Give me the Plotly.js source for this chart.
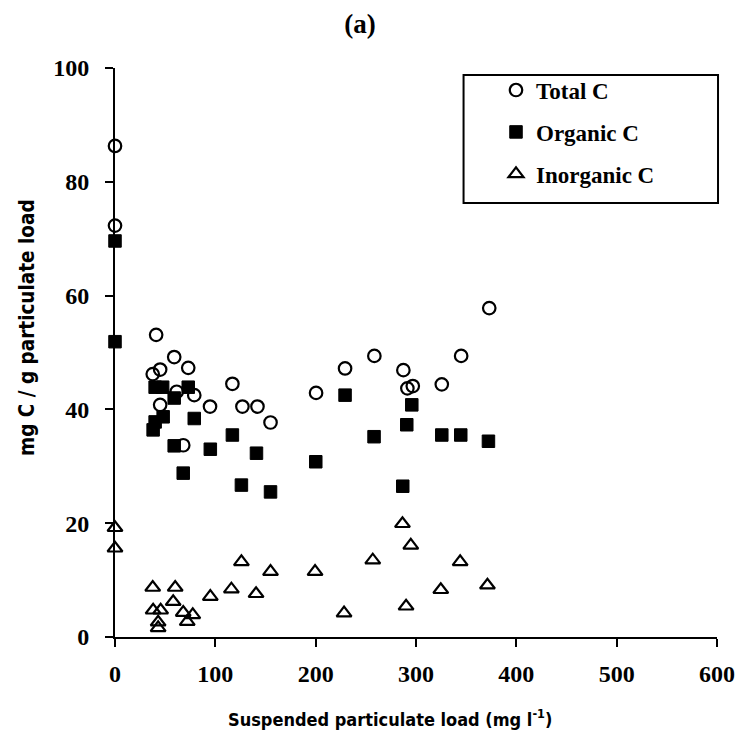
<!DOCTYPE html>
<html>
<head>
<meta charset="utf-8">
<script src="https://cdn.plot.ly/plotly-3.0.1.min.js"></script>
<style>html,body{margin:0;padding:0;background:#fff;}#chart{width:743px;height:736px;}</style>
</head>
<body>
<div id="chart"></div>
<script>
// Total C (open circles)
var totalX = [0, 0, 41, 59, 73, 37.6, 45, 117, 61.5, 79, 45, 94.7, 127, 142, 155, 68,
              373, 258.5, 345, 229.3, 287.4, 291.4, 296.8, 325.7, 200.4];
var totalY = [86.3, 72.3, 53.1, 49.2, 47.3, 46.2, 47.0, 44.5, 43.1, 42.5, 40.8, 40.5, 40.5, 40.5, 37.7, 33.7,
              57.8, 49.4, 49.4, 47.2, 46.9, 43.7, 44.1, 44.4, 42.9];
// Organic C (filled squares)
var organicX = [0, 0, 40, 47.5, 73, 59, 48, 40, 38, 79, 117, 59, 95, 141, 68, 126, 155,
                229.3, 295.8, 290.8, 258.2, 325.7, 344.6, 372.2, 200.1, 286.8];
var organicY = [69.6, 51.9, 43.9, 43.9, 43.9, 42.0, 38.7, 37.8, 36.4, 38.4, 35.5, 33.6, 33.0, 32.3, 28.8, 26.7, 25.5,
                42.5, 40.8, 37.3, 35.2, 35.5, 35.5, 34.4, 30.8, 26.5];
// Inorganic C (open triangles)
var inorgX = [0, 0, 126, 155, 37.6, 60, 116, 140.6, 95, 58, 38, 45.5, 68, 77.5, 72, 43, 43,
              286.5, 294.8, 256.9, 344, 199.4, 371.2, 324.7, 290.1, 228.3];
var inorgY = [19.2, 15.6, 13.2, 11.5, 8.7, 8.7, 8.4, 7.6, 7.1, 6.2, 4.7, 4.7, 4.3, 3.9, 2.7, 2.6, 1.6,
              19.9, 16.1, 13.5, 13.2, 11.5, 9.1, 8.3, 5.4, 4.2];

var xTicks = [0, 100, 200, 300, 400, 500, 600];
var yTicks = [0, 20, 40, 60, 80, 100];

var serif = "Liberation Serif, Times New Roman, serif";
var narrow = "Liberation Sans Narrow, DejaVu Sans Condensed, Liberation Sans, sans-serif";

var traces = [
  {x: totalX, y: totalY, name: 'Total C', type: 'scatter', mode: 'markers', legendgroup: 'a', cliponaxis: false,
   marker: {symbol: 'circle-open', size: 12.5, color: '#000', line: {width: 2.2, color: '#000'}}},
  {x: organicX, y: organicY, name: 'Organic C', type: 'scatter', mode: 'markers', legendgroup: 'b', cliponaxis: false,
   marker: {symbol: 'square', size: 12.5, color: '#000', line: {width: 1, color: '#000'}}},
  {x: inorgX, y: inorgY, name: 'Inorganic C', type: 'scatter', mode: 'markers', legendgroup: 'c', cliponaxis: false,
   marker: {symbol: 'triangle-up-open', size: 13, color: '#000', line: {width: 2.2, color: '#000'}}}
];

var layout = {
  width: 743, height: 736,
  margin: {l: 115, r: 26, t: 68, b: 99},
  paper_bgcolor: '#fff', plot_bgcolor: '#fff',
  showlegend: true,
  title: {text: '<b>(a)</b>', font: {family: serif, size: 27, color: '#000'},
          x: 0.4845, xanchor: 'center', y: 0.9674, yanchor: 'middle'},
  xaxis: {
    range: [0, 600], tickvals: xTicks,
    showgrid: false, zeroline: false, showline: true, linecolor: '#000', linewidth: 2,
    ticks: 'outside', ticklen: 8, tickwidth: 2, tickcolor: '#000', ticklabelstandoff: 6,
    tickfont: {family: serif, size: 24, color: '#000', weight: 'bold'}
  },
  yaxis: {
    range: [0, 100], tickvals: yTicks,
    showgrid: false, zeroline: false, showline: true, linecolor: '#000', linewidth: 2,
    ticks: 'outside', ticklen: 8, tickwidth: 2, tickcolor: '#000', ticklabelstandoff: 11,
    tickfont: {family: serif, size: 24, color: '#000', weight: 'bold'}
  },
  legend: {
    x: 0.6329, y: 0.999, xanchor: 'left', yanchor: 'top',
    borderwidth: 0, bgcolor: 'rgba(0,0,0,0)',
    font: {family: serif, size: 23, color: '#000', weight: 'bold'},
    traceorder: 'grouped', tracegroupgap: 9,
    itemwidth: 30
  },
  shapes: [
    {type: 'rect', xref: 'paper', yref: 'paper', x0: 0.579, x1: 1.0017, y0: 0.7627, y1: 0.9877,
     line: {color: '#000', width: 2}, fillcolor: 'rgba(0,0,0,0)', layer: 'below'}
  ],
  annotations: [
    {text: '<b>Suspended particulate load (mg l<sup>-1</sup>)</b>', xref: 'paper', yref: 'paper',
     x: 0.4568, y: -0.1424, xanchor: 'center', yanchor: 'middle', showarrow: false,
     font: {family: narrow, size: 18, color: '#000'}},
    {text: '<b>mg C / g particulate load</b>', xref: 'paper', yref: 'paper', textangle: -90,
     x: -0.1462, y: 0.5448, xanchor: 'center', yanchor: 'middle', showarrow: false,
     font: {family: narrow, size: 20.5, color: '#000'}}
  ]
};

Plotly.newPlot('chart', traces, layout, {displayModeBar: false, staticPlot: true});
</script>
</body>
</html>
